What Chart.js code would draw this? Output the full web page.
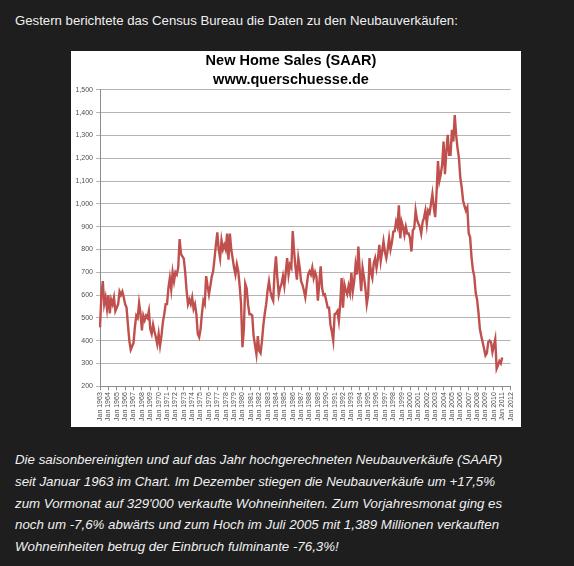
<!DOCTYPE html>
<html><head><meta charset="utf-8">
<script src="https://cdn.jsdelivr.net/npm/chart.js@4"></script>
<style>
body{margin:0;background:#1e1e1e;width:574px;height:566px;overflow:hidden;position:relative;font-family:"Liberation Sans",Arial,sans-serif;}
#top{position:absolute;left:15px;top:12px;color:#f0f0f0;font-size:13.2px;line-height:18px;white-space:nowrap;}
#box{position:absolute;left:71px;top:51px;width:450px;height:376px;background:#fff;}
#bottom{position:absolute;left:15px;top:449px;color:#f0f0f0;font-size:13.3px;font-style:italic;line-height:21.8px;white-space:nowrap;}
</style></head><body>
<div id="top">Gestern berichtete das Census Bureau die Daten zu den Neubauverkäufen:</div>
<div id="box"><canvas id="c" width="450" height="376"></canvas></div>
<div id="bottom">Die saisonbereinigten und auf das Jahr hochgerechneten Neubauverkäufe (SAAR)<br>seit Januar 1963 im Chart. Im Dezember stiegen die Neubauverkäufe um +17,5%<br>zum Vormonat auf 329'000 verkaufte Wohneinheiten. Zum Vorjahresmonat ging es<br>noch um -7,6% abwärts und zum Hoch im Juli 2005 mit 1,389 Millionen verkauften<br>Wohneinheiten betrug der Einbruch fulminante -76,3%!</div>
<script>
const TITLE = ['New Home Sales (SAAR)', 'www.querschuesse.de'];
const FIRST_YEAR = 1963;
const LAST_YEAR = 2012;
const MONTHS = ['Jan', 'Mar', 'May', 'Jul', 'Sep', 'Nov'];
// New home sales, thousands (SAAR), read every two months off the picture
const sales = [
  458, 600, 661, 560, 590, 540,   // 1963
  600, 520, 580, 560, 590, 530,   // 1964
  545, 560, 615, 600, 615, 590,   // 1965
  560, 545, 470, 400, 360, 375,   // 1966
  390, 460, 510, 500, 565, 520,   // 1967
  445, 510, 490, 510, 500, 530,   // 1968
  450, 430, 470, 440, 415, 385,   // 1969
  430, 378, 420, 480, 516, 560,   // 1970
  560, 632, 675, 625, 700, 660,   // 1971
  700, 690, 720, 846, 780, 770,   // 1972
  760, 700, 620, 560, 580, 560,   // 1973
  590, 540, 560, 516, 430, 415,   // 1974
  450, 520, 575, 560, 683, 640,   // 1975
  603, 640, 680, 704, 760, 820,   // 1976
  875, 800, 762, 840, 800, 820,   // 1977
  800, 870, 755, 870, 800, 760,   // 1978
  720, 690, 735, 705, 640, 560,   // 1979
  371, 450, 650, 630, 560, 516,   // 1980
  516, 510, 420, 380, 340, 420,   // 1981
  355, 345, 400, 470, 520, 560,   // 1982
  620, 660, 617, 590, 575, 700,   // 1983
  770, 675, 603, 632, 650, 683,   // 1984
  640, 700, 762, 690, 733, 720,   // 1985
  881, 790, 720, 668, 762, 720,   // 1986
  660, 645, 620, 590, 640, 690,   // 1987
  704, 690, 720, 675, 700, 680,   // 1988
  575, 650, 726, 632, 600, 603,   // 1989
  575, 545, 545, 470, 440, 400,   // 1990
  516, 520, 530, 487, 560, 675,   // 1991
  545, 646, 620, 603, 640, 610,   // 1992
  697, 617, 660, 733, 690, 813,   // 1993
  704, 617, 719, 680, 632, 560,   // 1994
  600, 762, 700, 675, 740, 762,   // 1995
  719, 760, 820, 748, 790, 835,   // 1996
  790, 762, 800, 849, 800, 830,   // 1997
  878, 880, 922, 900, 994, 849,   // 1998
  922, 900, 864, 900, 870, 870,   // 1999
  850, 791, 884, 893, 971, 930,   // 2000
  913, 900, 870, 920, 940, 971,   // 2001
  913, 971, 960, 1000, 1043, 985, // 2002
  942, 1050, 1188, 1101, 1130, 1173, // 2003
  1274, 1130, 1231, 1303, 1216, 1216, // 2004
  1325, 1274, 1390, 1303, 1245, 1202, // 2005
  1115, 1072, 1014, 990, 971, 985, // 2006
  870, 855, 768, 711, 682, 610,   // 2007
  580, 523, 451, 420, 393, 364,   // 2008
  335, 345, 393, 400, 393, 350,   // 2009
  378, 407, 277, 292, 310, 300,   // 2010
  326                             // 2011
];
const Y_MIN = 200, Y_MAX = 1500, Y_STEP = 100;

const categories = [];
for (let y = FIRST_YEAR; y <= LAST_YEAR; y++) {
  for (const m of MONTHS) {
    categories.push(m + ' ' + y);
    if (y === LAST_YEAR) break;
  }
}

const axisFont = {family: '"Liberation Sans", Arial, sans-serif', size: 7};
new Chart(document.getElementById('c'), {
  type: 'line',
  data: {
    labels: categories,
    datasets: [{
      data: sales,
      borderColor: '#c0504d',
      borderWidth: 2.4,
      pointRadius: 0,
      tension: 0,
      fill: false
    }]
  },
  options: {
    responsive: false,
    animation: false,
    layout: {padding: {left: 0, right: 10, top: 0, bottom: 4}},
    plugins: {
      legend: {display: false},
      tooltip: {enabled: false},
      title: {
        display: true,
        text: TITLE,
        color: '#000',
        font: {family: '"Liberation Sans", Arial, sans-serif', size: 14.5, weight: 'bold', lineHeight: 1.31},
        padding: {top: 1, bottom: 0}
      }
    },
    scales: {
      x: {
        type: 'category',
        offset: false,
        border: {color: '#8c8c8c', width: 1},
        grid: {display: true, drawOnChartArea: false, tickLength: 4, color: '#8c8c8c'},
        ticks: {
          autoSkip: false,
          minRotation: 90,
          maxRotation: 90,
          padding: 2,
          color: '#4d4d4d',
          font: axisFont,
          callback: function (v, i) { return i % MONTHS.length === 0 ? this.getLabelForValue(v) : null; }
        }
      },
      y: {
        min: Y_MIN,
        max: Y_MAX,
        border: {color: '#8c8c8c', width: 1},
        grid: {color: '#b4b4b4', tickLength: 4},
        ticks: {
          stepSize: Y_STEP,
          padding: 3,
          color: '#4d4d4d',
          font: axisFont,
          callback: (v) => v.toLocaleString('en-US')
        },
        afterFit: (s) => { s.width = 29; }
      }
    }
  }
});
</script>
</body></html>
